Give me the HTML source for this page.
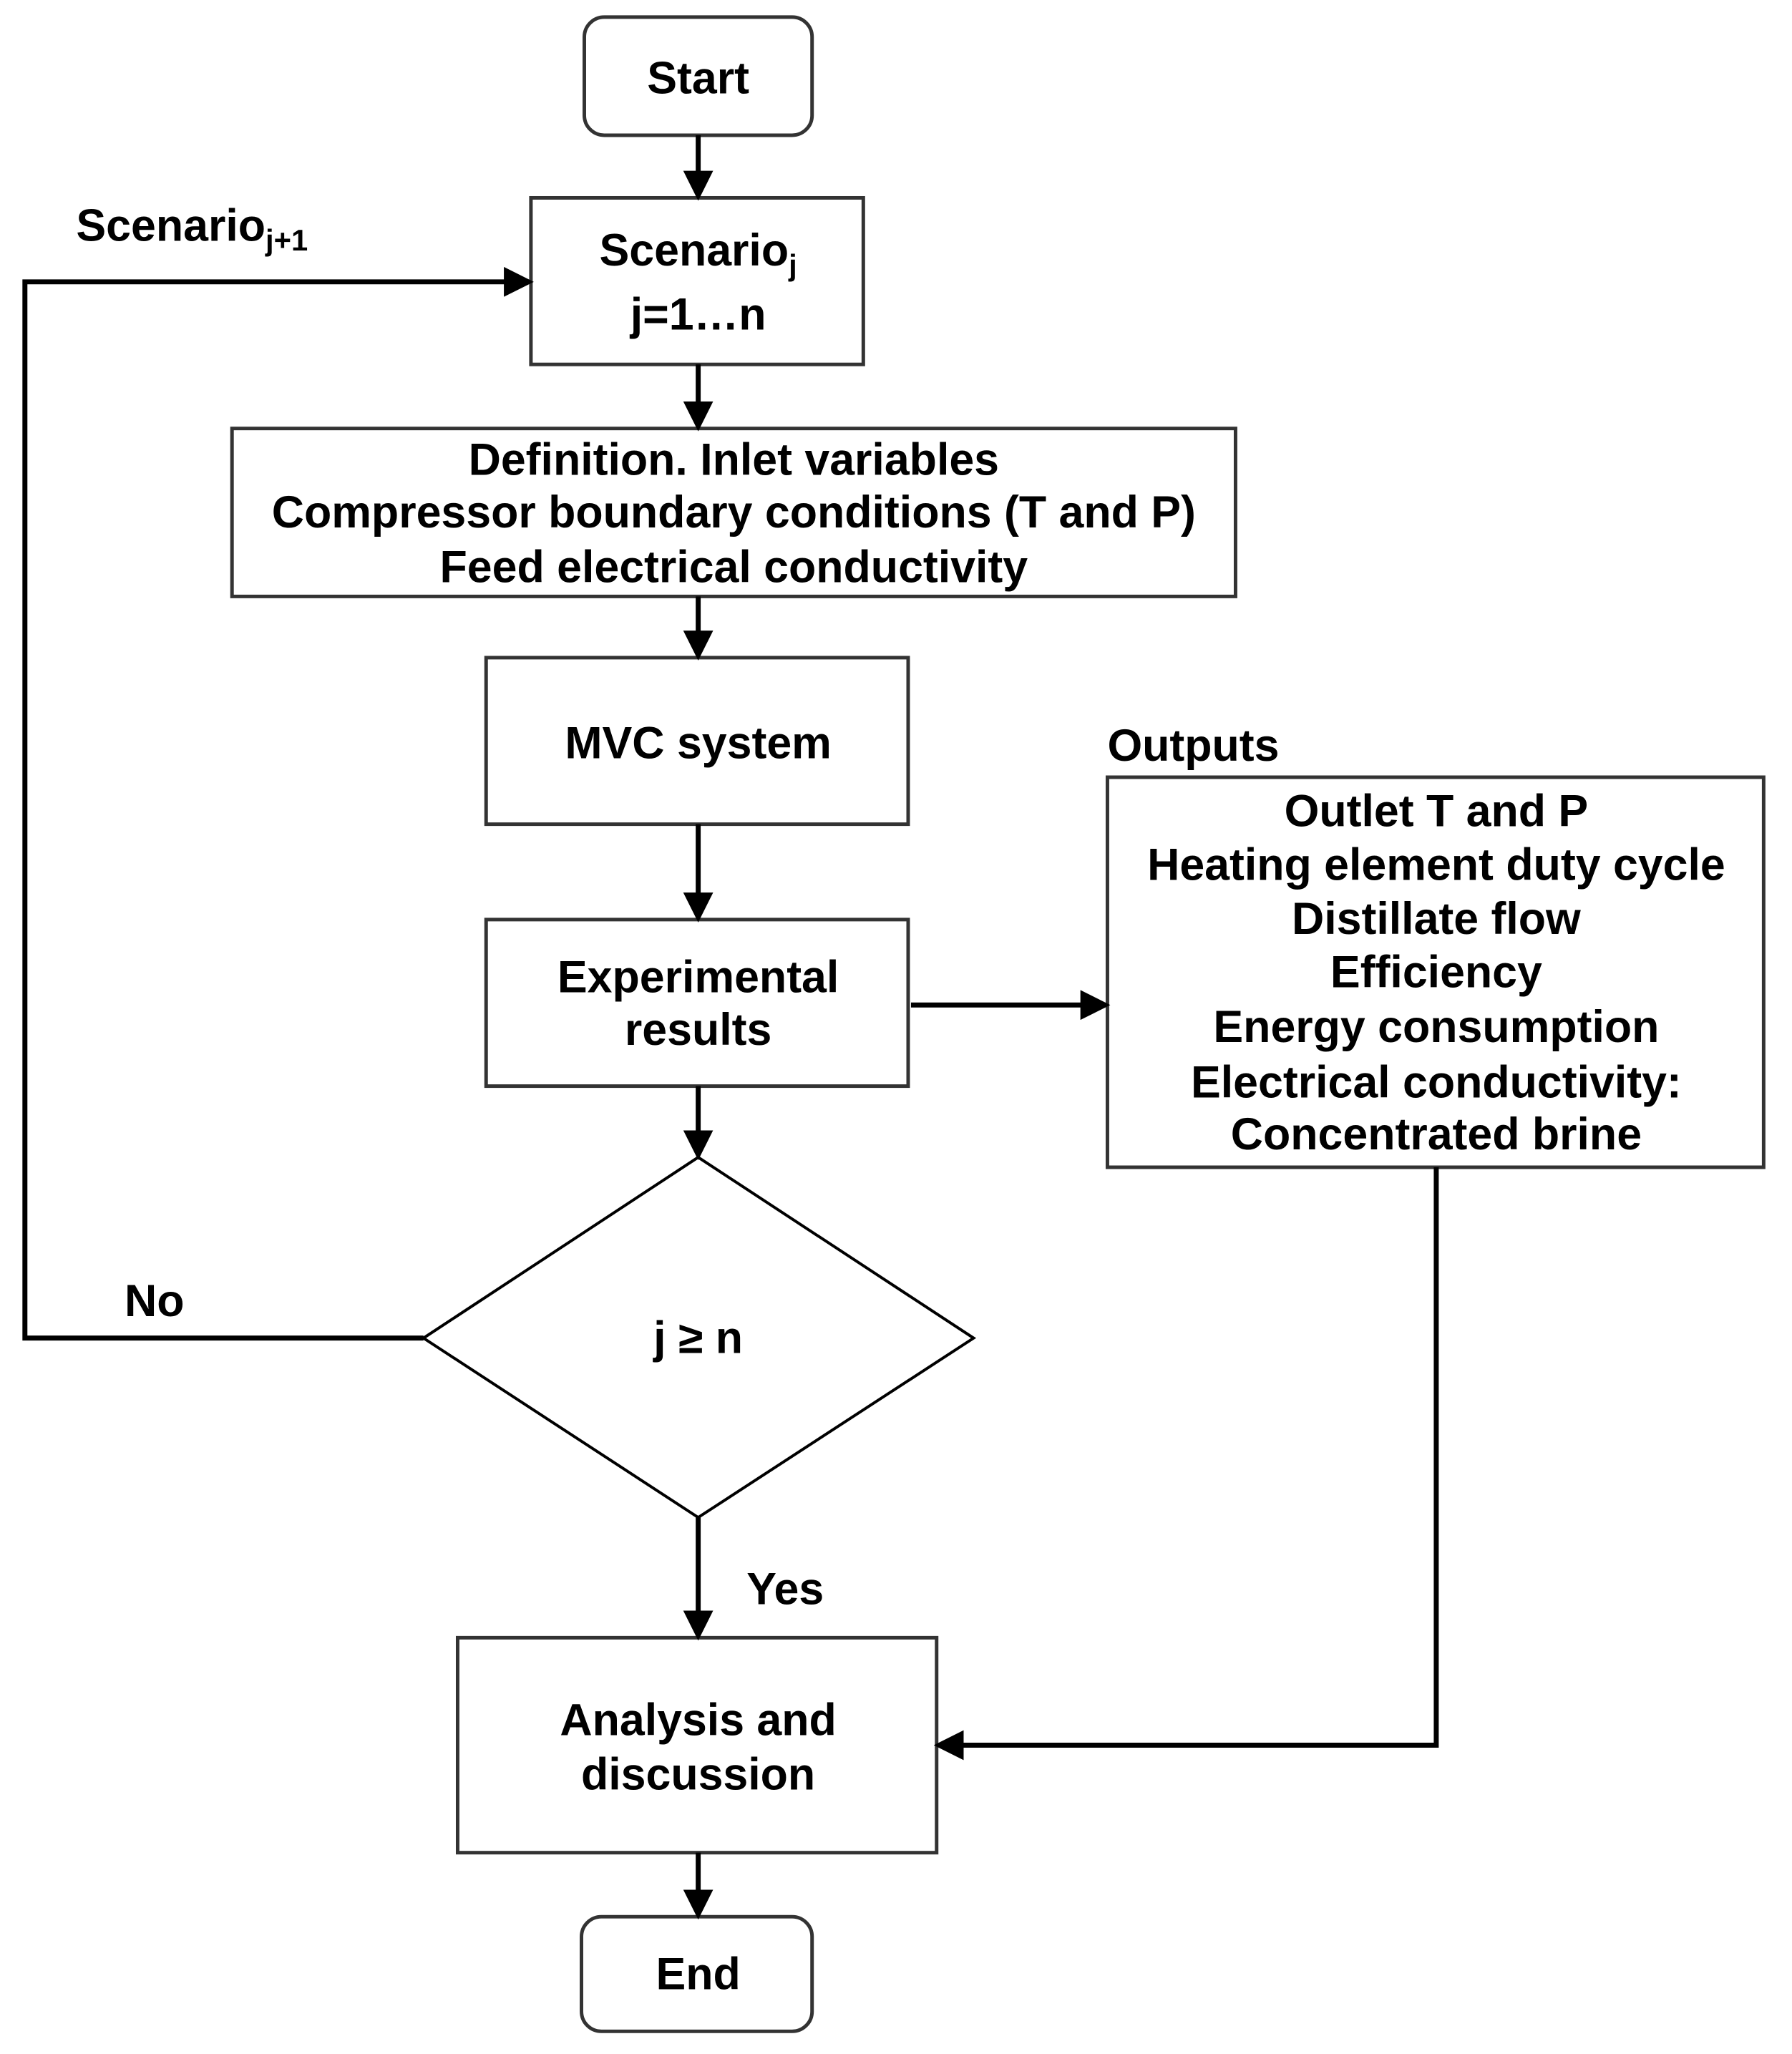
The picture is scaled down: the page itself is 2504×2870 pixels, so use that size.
<!DOCTYPE html>
<html><head><meta charset="utf-8"><style>
html,body{margin:0;padding:0;background:#fff}
svg{display:block}
text{font-family:"Liberation Sans",Arial,sans-serif;font-weight:bold;font-size:63px;fill:#000}
</style></head><body>
<svg width="2504" height="2870" viewBox="0 0 2504 2870" xmlns="http://www.w3.org/2000/svg">
<defs><marker id="a" markerWidth="6" markerHeight="6" refX="5" refY="3" orient="auto" markerUnits="strokeWidth"><path d="M0,0 L6,3 L0,6 z" fill="#000"/></marker></defs>
<g transform="scale(0.9945)">
<g fill="#fff" stroke="#333" stroke-width="5">
<rect x="821" y="24" width="320" height="166" rx="28"/>
<rect x="746" y="278" width="467" height="234"/>
<rect x="326" y="602" width="1410" height="236"/>
<rect x="683" y="924" width="593" height="234"/>
<rect x="683" y="1292" width="593" height="234"/>
<polygon points="981,1626 1368,1880 981,2132 595,1880" stroke="#000" stroke-width="4"/>
<rect x="643" y="2301" width="673" height="302"/>
<rect x="817" y="2693" width="324" height="161" rx="28"/>
<rect x="1556" y="1092" width="922" height="548"/>
</g>
<g stroke="#000" stroke-width="7" fill="none" marker-end="url(#a)">
<line x1="981" y1="190" x2="981" y2="275"/>
<line x1="981" y1="512" x2="981" y2="599"/>
<line x1="981" y1="838" x2="981" y2="921"/>
<line x1="981" y1="1158" x2="981" y2="1289"/>
<line x1="981" y1="1526" x2="981" y2="1623"/>
<line x1="981" y1="2132" x2="981" y2="2298"/>
<line x1="981" y1="2603" x2="981" y2="2690"/>
<line x1="1280" y1="1412" x2="1553" y2="1412"/>
<polyline points="595,1880 35,1880 35,396 743,396"/>
<polyline points="2018,1640 2018,2452 1319,2452"/>
</g>
<g text-anchor="middle" dominant-baseline="central">
<text x="981" y="110">Start</text>
<text x="981" y="352" font-size="68">Scenario<tspan font-size="42" dy="20">j</tspan></text>
<text x="981" y="442" font-size="68">j=1…n</text>
<text x="1031" y="646">Definition. Inlet variables</text>
<text x="1031" y="720">Compressor boundary conditions (T and P)</text>
<text x="1031" y="797">Feed electrical conductivity</text>
<text x="981" y="1044">MVC system</text>
<text x="981" y="1373">Experimental</text>
<text x="981" y="1447">results</text>
<text x="981" y="1880">j ≥ n</text>
<text x="981" y="2417">Analysis and</text>
<text x="981" y="2493">discussion</text>
<text x="981" y="2774">End</text>
<text x="2018" y="1140">Outlet T and P</text>
<text x="2018" y="1215">Heating element duty cycle</text>
<text x="2018" y="1291">Distillate flow</text>
<text x="2018" y="1366">Efficiency</text>
<text x="2018" y="1443">Energy consumption</text>
<text x="2018" y="1521">Electrical conductivity:</text>
<text x="2018" y="1594">Concentrated brine</text>
</g>
<g dominant-baseline="central">
<text x="1556" y="1048">Outputs</text>
<text x="107" y="317" font-size="66">Scenario<tspan font-size="42" dy="20">j+1</tspan></text>
<text x="175" y="1828">No</text>
<text x="1049" y="2233">Yes</text>
</g>
</g>
</svg>
</body></html>
